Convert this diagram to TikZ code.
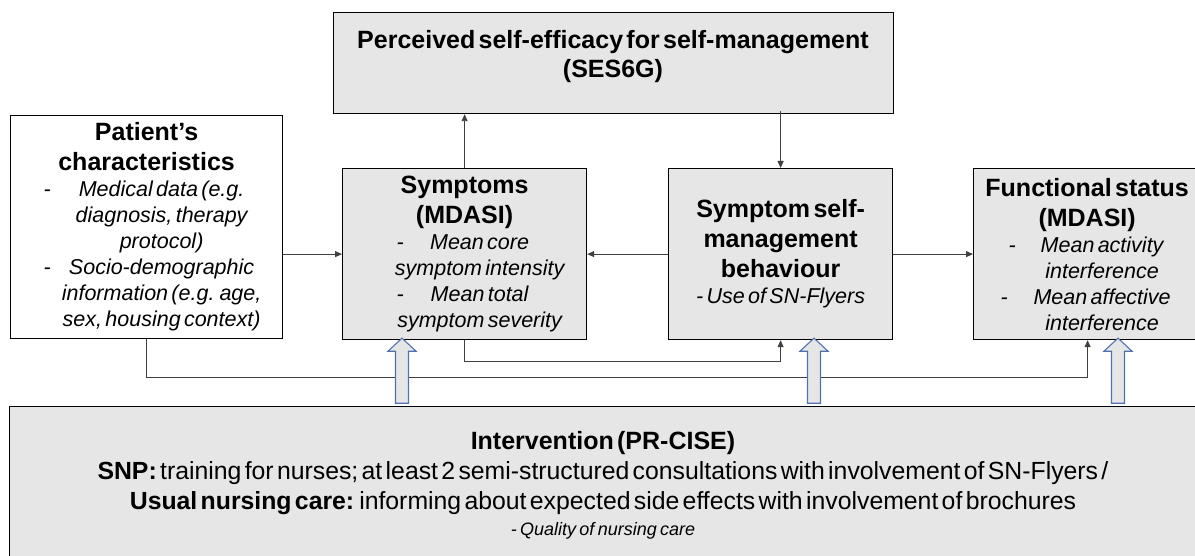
\documentclass[tikz,border=0pt]{standalone}
\usepackage{fontspec}
\setmainfont{Liberation Sans}[WordSpace=1.3]
\usetikzlibrary{arrows.meta,calc}
\definecolor{boxfill}{RGB}{230,230,230}
\definecolor{conncol}{RGB}{64,64,64}
\definecolor{blkcol}{RGB}{80,115,175}
\newcommand\hdf{\fontsize{25}{30}\selectfont\bfseries}
\newcommand\itf{\fontsize{21.5}{26}\selectfont\itshape}
\newcommand\dl[2]{\makebox[0pt][l]{\hspace*{#1}-}\makebox[\hsize][c]{\hspace*{30pt}#2}}
\newcommand\cl[1]{\makebox[\hsize][c]{\hspace*{30pt}#1}}
\tikzset{
  box/.style={draw=black, line width=1.2pt, fill=boxfill, inner sep=0pt, align=center, anchor=north west},
  arr/.style={draw=conncol, line width=0.9pt, -{Triangle[length=7pt,width=6pt]}},
  blk/.style={draw=blkcol, line width=1.1pt, fill=boxfill, line join=miter}
}
\begin{document}
\begin{tikzpicture}[x=1pt,y=-1pt]
\useasboundingbox (0,0) rectangle (1195,556);
% boxes
\node[box, fill=white, text width=272pt, minimum width=272pt, minimum height=223pt] (pat) at (10,115)
  {{\hdf Patient’s\par characteristics\par}
   {\itf \dl{33pt}{Medical data (e.g.}\par \cl{diagnosis, therapy}\par \cl{protocol)}\par
    \dl{33pt}{Socio-demographic}\par \cl{information (e.g. age,}\par \cl{sex, housing context)}\par}};
\node[box, text width=560pt, minimum width=560pt, minimum height=101pt] (ses) at (333,12) {};
\node[align=center, inner sep=0pt, text width=550pt] (sestext) at (613,57)
  {\fontsize{25}{29}\selectfont\bfseries Perceived self-efficacy for self-management\par (SES6G)\par};
\node[box, text width=244pt, minimum width=244pt, minimum height=171pt] (symp) at (342,168)
  {{\hdf Symptoms\par (MDASI)\par}
   {\itf \dl{54pt}{Mean core}\par \cl{symptom intensity}\par
    \dl{54pt}{Mean total}\par \cl{symptom severity}\par}};
\node[box, text width=224pt, minimum width=224pt, minimum height=171pt] (ssmb) at (668,168)
  {{\hdf Symptom self-\par management\par behaviour\par}
   {\itf - Use of SN-Flyers\par}};
\node[box, text width=227pt, minimum width=227pt, minimum height=171pt] (func) at (973,168)
  {{\hdf Functional status\par (MDASI)\par}
   {\itf \dl{35pt}{Mean activity}\par \cl{interference}\par
    \dl{27pt}{Mean affective}\par \cl{interference}\par}};
\node[box, text width=1191pt, minimum width=1191pt, minimum height=160pt] (interv) at (9,406) {};
\node[align=center, inner sep=0pt, text width=1180pt] (intervtext) at (603,485)
  {{\fontsize{25}{30}\selectfont\bfseries Intervention (PR-CISE)\par}
   {\fontsize{24.8}{30}\selectfont \textbf{SNP:} training for nurses; at least 2 semi-structured consultations with involvement of SN-Flyers /\par
    \textbf{Usual nursing care:} informing about expected side effects with involvement of brochures\par}
   {\fontsize{18}{26}\selectfont\itshape - Quality of nursing care\par}};
% connectors
\draw[arr] (symp.north) -- (symp.north |- ses.south);
\draw[arr] ([yshift=3pt]ssmb.north |- ses.south) -- (ssmb.north);
\draw[arr] (symp.west -| pat.east) -- (symp.west);
\draw[arr] (ssmb.west) -- (symp.east);
\draw[arr] (ssmb.east) -- (func.west);
\draw[arr] (symp.south) -- ++(0,21) -| (ssmb.south);
\draw[arr] (pat.south) -- ++(0,38) -| ([xshift=0.5pt]func.south);
% block arrows
\coordinate (t1) at ([xshift=60pt,yshift=2pt]symp.south west);
\coordinate (t2) at ([xshift=146pt,yshift=2pt]ssmb.south west);
\coordinate (t3) at ([xshift=145pt,yshift=2pt]func.south west);
\foreach \t in {t1,t2,t3}{
  \draw[blk] (\t) -- ++(14,13) -- ++(-7.5,0) -- ++(0,52) -- ++(-13,0) -- ++(0,-52) -- ++(-7.5,0) -- cycle;
}
\end{tikzpicture}
\end{document}
